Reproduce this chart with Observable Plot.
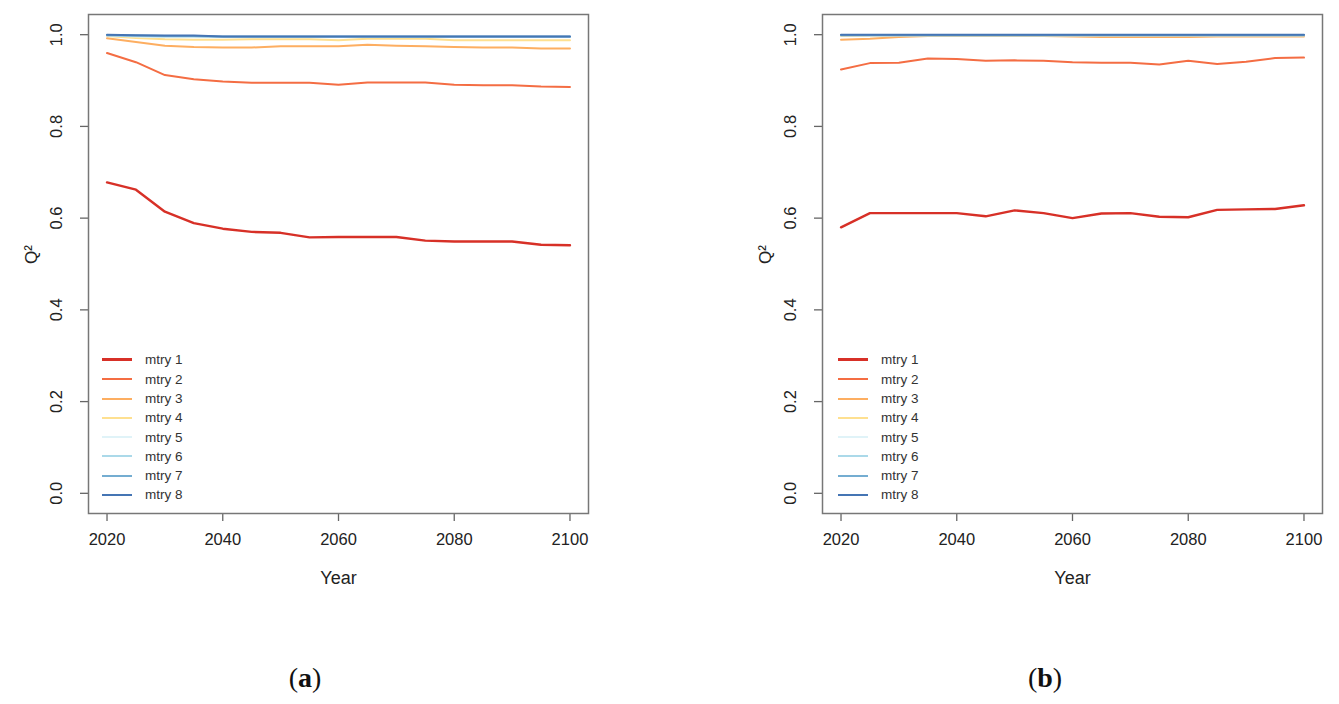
<!DOCTYPE html>
<html><head><meta charset="utf-8">
<script src="https://cdn.jsdelivr.net/npm/d3@7"></script>
<script src="https://cdn.jsdelivr.net/npm/@observablehq/plot@0.6"></script>
<style>
body{margin:0;background:#fff;font-family:"Liberation Sans",Arial,sans-serif;}
#wrap{position:relative;width:1339px;height:704px;overflow:hidden;}
.panel{position:absolute;top:0;}
.legend{position:absolute;font-size:13.5px;color:#333;line-height:19.3px;}
.legend div{display:flex;align-items:center;height:19.3px;}
.legend span.sw{display:inline-block;width:30px;margin-right:13px;}
.cap{position:absolute;top:662px;width:80px;margin-left:-40px;text-align:center;font-family:"Liberation Serif","DejaVu Serif",serif;font-size:28px;color:#111;}
</style></head><body><div id="wrap"></div>
<script>
const years = [2020,2025,2030,2035,2040,2045,2050,2055,2060,2065,2070,2075,2080,2085,2090,2095,2100];
const seriesNames = ["mtry 1","mtry 2","mtry 3","mtry 4","mtry 5","mtry 6","mtry 7","mtry 8"];
const colors = ["#d73027","#f46d43","#fdae61","#fee090","#e0f3f8","#abd9e9","#74add1","#4575b4"];
const xTicks = [2020,2040,2060,2080,2100];
const yTicks = [0,0.2,0.4,0.6,0.8,1.0];

// Panel (a)
const a1 = [.678,.662,.614,.589,.577,.570,.568,.558,.559,.559,.559,.551,.549,.549,.549,.542,.541];
const a2 = [.960,.940,.912,.903,.898,.895,.895,.895,.891,.896,.896,.896,.891,.890,.890,.887,.886];
const a3 = [.992,.984,.976,.973,.972,.972,.975,.975,.975,.978,.976,.975,.973,.972,.972,.970,.970];
const a4 = [.997,.993,.990,.989,.989,.990,.990,.990,.988,.991,.991,.991,.988,.988,.988,.988,.988];
const a5 = [.998,.996,.995,.995,.995,.995,.995,.995,.995,.995,.995,.995,.995,.995,.995,.995,.995];
const a6 = [.999,.997,.996,.996,.995,.995,.995,.995,.995,.995,.995,.995,.995,.995,.995,.995,.995];
const a7 = [.999,.998,.997,.997,.996,.996,.996,.996,.996,.996,.996,.996,.996,.996,.996,.996,.996];
const a8 = [1.000,.999,.998,.998,.996,.996,.996,.996,.996,.996,.996,.996,.996,.996,.996,.996,.996];

// Panel (b)
const b1 = [.580,.611,.611,.611,.611,.604,.617,.611,.600,.610,.611,.603,.602,.618,.619,.620,.628];
const b2 = [.924,.938,.939,.948,.947,.943,.944,.943,.940,.939,.939,.935,.943,.936,.941,.949,.950];
const b3 = [.989,.991,.995,.997,.997,.997,.997,.997,.996,.995,.995,.995,.995,.996,.996,.996,.996];
const b4 = [.997,.998,.998,.998,.998,.998,.998,.998,.998,.998,.998,.998,.998,.998,.998,.998,.998];
const b5 = [.999,.999,.999,.999,.999,.999,.999,.999,.999,.999,.999,.999,.999,.999,.999,.999,.999];
const b6 = [.999,.999,.999,.999,.999,.999,.999,.999,.999,.999,.999,.999,.999,.999,.999,.999,.999];
const b7 = [.999,.999,.999,.999,.999,.999,.999,.999,.999,.999,.999,.999,.999,.999,.999,.999,.999];
const b8 = [1.000,1.000,1.000,1.000,1.000,1.000,1.000,1.000,1.000,1.000,1.000,1.000,1.000,1.000,1.000,1.000,1.000];

const wrap = document.getElementById("wrap");

function makePanel(series, left, legendLeft, caption, capX) {
  const lineMarks = series.map((vals, i) => {
    const rows = vals.map((v, j) => ({year: years[j], q: v, s: seriesNames[i]}));
    return Plot.line(rows, {x: "year", y: "q", stroke: colors[i], strokeWidth: i === 0 ? 2.4 : 2});
  });
  const chart = Plot.plot({
    width: 603, height: 600,
    marginLeft: 88, marginRight: 15, marginTop: 14, marginBottom: 87,
    x: {domain: [2016.8, 2103.2]},
    y: {domain: [-0.044, 1.044]},
    style: {fontFamily: "'Liberation Sans', Arial, sans-serif", fontSize: "16.5px", color: "#222", background: "transparent"},
    marks: [
      Plot.axisX({ticks: xTicks, tickSize: 8, tickPadding: 12, tickFormat: d => String(d), label: null, stroke: "#666", strokeWidth: 1.3, fill: "#222", fontSize: 16.5}),
      Plot.axisY({ticks: yTicks, tickSize: 8, tickFormat: () => "", label: null, stroke: "#666", strokeWidth: 1.3}),
      Plot.text(yTicks, {y: d => d, frameAnchor: "left", dx: -32, rotate: -90, text: d => d.toFixed(1), textAnchor: "middle", fill: "#222", fontSize: 16.5}),
      Plot.text(["Q²"], {frameAnchor: "left", dx: -57, rotate: -90, text: d => d, fill: "#222", fontSize: 17}),
      Plot.text(["Year"], {frameAnchor: "bottom", dy: 70, text: d => d, fill: "#222", fontSize: 18}),
      ...lineMarks,
      Plot.frame({stroke: "#777", strokeWidth: 1.5})
    ]
  });
  chart.classList.add("panel");
  chart.style.left = left + "px";
  wrap.appendChild(chart);

  const lg = document.createElement("div");
  lg.className = "legend";
  lg.style.left = legendLeft + "px";
  lg.style.top = (360 - 9.65) + "px";
  seriesNames.forEach((n, i) => {
    const row = document.createElement("div");
    row.innerHTML = `<span class="sw" style="border-top:${i === 0 ? 3 : 2}px solid ${colors[i]}"></span><span>${n}</span>`;
    lg.appendChild(row);
  });
  wrap.appendChild(lg);

  const cap = document.createElement("div");
  cap.className = "cap";
  cap.style.left = capX + "px";
  cap.innerHTML = `(<b>${caption}</b>)`;
  wrap.appendChild(cap);
}

makePanel([a1,a2,a3,a4,a5,a6,a7,a8], 0, 102, "a", 305);
makePanel([b1,b2,b3,b4,b5,b6,b7,b8], 734, 838, "b", 1045);
</script>
</body></html>
